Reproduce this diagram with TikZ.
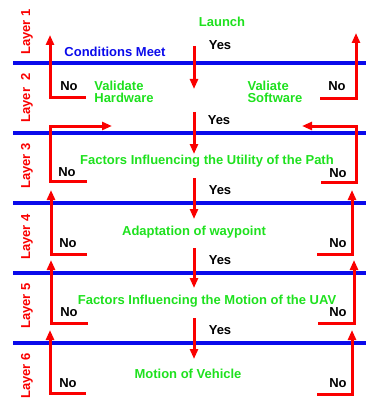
\documentclass[tikz,border=0pt]{standalone}
\usepackage{fontspec}
\setmainfont{Liberation Sans}
\usepackage{xcolor}
\definecolor{layerred}{RGB}{250,0,0}
\definecolor{levelblue}{RGB}{10,10,235}
\definecolor{taskgreen}{RGB}{30,225,30}
\usetikzlibrary{arrows.meta}
\newcommand{\txtsize}{\fontsize{13}{14}\selectfont\bfseries}
\tikzset{
    layer/.style={rotate=90, text=layerred, font=\txtsize},
    level/.style={levelblue, line width=3.8pt},
    flow/.style={layerred, line width=3pt, line join=miter, -{Triangle[length=10pt, width=8pt]}},
    answer/.style={font=\txtsize},
    task/.style={text=taskgreen, font=\txtsize, align=center},
    point/.style={coordinate}
}

\begin{document}
\begin{tikzpicture}[x=1pt, y=-1pt]
      \useasboundingbox (0,0) rectangle (366,401);

      % separators between the layers
      \path
          (13,63) node[point] (sep1-w) {} (366,63) node[point] (sep1-e) {}
          (13,133) node[point] (sep2-w) {} (366,133) node[point] (sep2-e) {}
          (13,203) node[point] (sep3-w) {} (366,203) node[point] (sep3-e) {}
          (13,273) node[point] (sep4-w) {} (366,273) node[point] (sep4-e) {}
          (13,343) node[point] (sep5-w) {} (366,343) node[point] (sep5-e) {};
      \draw[level] (sep1-w) -- (sep1-e) (sep2-w) -- (sep2-e) (sep3-w) -- (sep3-e)
          (sep4-w) -- (sep4-e) (sep5-w) -- (sep5-e);

      \node[layer] (layer1) at (27,32) {Layer 1};
      \node[layer] (layer2) at (27,98) {Layer\ \ 2};
      \node[layer] (layer3) at (27,166) {Layer 3};
      \node[layer] (layer4) at (27,237) {Layer 4};
      \node[layer] (layer5) at (27,306) {Layer 5};
      \node[layer] (layer6) at (27,376) {Layer 6};

      \node[task] (launch) at (222,22) {Launch};
      \node[text=levelblue, font=\txtsize] (conditions) at (115,52) {Conditions Meet};
      \node[task, align=left] (hardware) at (124,92) {Validate\\[-2pt]Hardware};
      \node[task, align=left] (software) at (275,92) {Valiate\\[-2pt]Software};
      \node[task] (utility) at (207,161) {Factors Influencing the Utility of the Path};
      \node[task] (waypoint) at (194,232) {Adaptation of waypoint};
      \node[task] (motion) at (207,301) {Factors Influencing the Motion of the UAV};
      \node[task] (vehicle) at (188,374) {Motion of Vehicle};

      % main line: yes
      \path
          (194,46) node[point] (yes1-a) {} (194,89) node[point] (yes1-b) {}
          (194,112) node[point] (yes2-a) {} (194,154) node[point] (yes2-b) {}
          (194,178) node[point] (yes3-a) {} (194,219) node[point] (yes3-b) {}
          (194,248) node[point] (yes4-a) {} (194,288) node[point] (yes4-b) {}
          (194,318) node[point] (yes5-a) {} (194,359) node[point] (yes5-b) {};
      \draw[flow] (yes1-a) -- (yes1-b);
      \draw[flow] (yes2-a) -- (yes2-b);
      \draw[flow] (yes3-a) -- (yes3-b);
      \draw[flow] (yes4-a) -- (yes4-b);
      \draw[flow] (yes5-a) -- (yes5-b);
      \node[answer] (yes1) at (220,45) {Yes};
      \node[answer] (yes2) at (219,120) {Yes};
      \node[answer] (yes3) at (220,190) {Yes};
      \node[answer] (yes4) at (220,260) {Yes};
      \node[answer] (yes5) at (220,330) {Yes};

      % left side: no
      \path
          (86,98) node[point] (hw-no) {} (50,98) node[point] (hw-corner) {} (50,35) node[point] (hw-top) {}
          (87,181) node[point] (ut-l-no) {} (50,181) node[point] (ut-l-corner) {}
          (50,126) node[point] (ut-l-bend) {} (112,126) node[point] (ut-l-end) {}
          (87,254) node[point] (wp-l-no) {} (51,254) node[point] (wp-l-corner) {} (51,190) node[point] (wp-l-top) {}
          (88,323) node[point] (mo-l-no) {} (51,323) node[point] (mo-l-corner) {} (51,260) node[point] (mo-l-top) {}
          (86,393) node[point] (ve-l-no) {} (50,393) node[point] (ve-l-corner) {} (50,330) node[point] (ve-l-top) {};
      \draw[flow] (hw-no) -- (hw-corner) -- (hw-top);
      \draw[flow] (ut-l-no) -- (ut-l-corner) -- (ut-l-bend) -- (ut-l-end);
      \draw[flow] (wp-l-no) -- (wp-l-corner) -- (wp-l-top);
      \draw[flow] (mo-l-no) -- (mo-l-corner) -- (mo-l-top);
      \draw[flow] (ve-l-no) -- (ve-l-corner) -- (ve-l-top);
      \node[answer] (no-l2) at (69,86) {No};
      \node[answer] (no-l3) at (67,172) {No};
      \node[answer] (no-l4) at (68,243) {No};
      \node[answer] (no-l5) at (69,312) {No};
      \node[answer] (no-l6) at (68,383) {No};

      % right side: no
      \path
          (320,99) node[point] (sw-no) {} (356,99) node[point] (sw-corner) {} (356,33) node[point] (sw-top) {}
          (321,182) node[point] (ut-r-no) {} (356,182) node[point] (ut-r-corner) {}
          (356,126) node[point] (ut-r-bend) {} (302,126) node[point] (ut-r-end) {}
          (317,254) node[point] (wp-r-no) {} (352,254) node[point] (wp-r-corner) {} (352,190) node[point] (wp-r-top) {}
          (318,323) node[point] (mo-r-no) {} (354,323) node[point] (mo-r-corner) {} (354,260) node[point] (mo-r-top) {}
          (317,394) node[point] (ve-r-no) {} (352,394) node[point] (ve-r-corner) {} (352,330) node[point] (ve-r-top) {};
      \draw[flow] (sw-no) -- (sw-corner) -- (sw-top);
      \draw[flow] (ut-r-no) -- (ut-r-corner) -- (ut-r-bend) -- (ut-r-end);
      \draw[flow] (wp-r-no) -- (wp-r-corner) -- (wp-r-top);
      \draw[flow] (mo-r-no) -- (mo-r-corner) -- (mo-r-top);
      \draw[flow] (ve-r-no) -- (ve-r-corner) -- (ve-r-top);
      \node[answer] (no-r2) at (337,86) {No};
      \node[answer] (no-r3) at (338,173) {No};
      \node[answer] (no-r4) at (338,243) {No};
      \node[answer] (no-r5) at (338,312) {No};
      \node[answer] (no-r6) at (338,383) {No};
    \end{tikzpicture}
\end{document}
